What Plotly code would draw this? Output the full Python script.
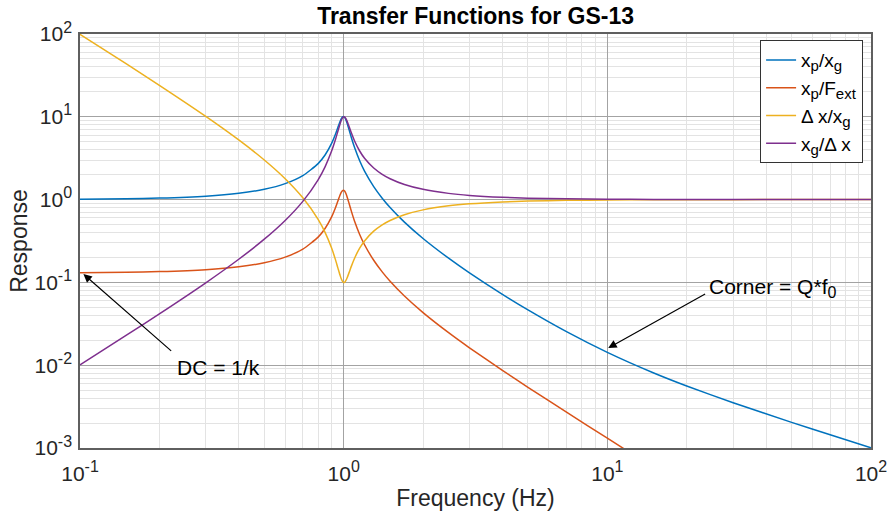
import plotly.graph_objects as go

# Frequencies (Hz) sampled along the curves
freq = [0.1, 0.15, 0.2, 0.3, 0.4, 0.5, 0.6, 0.7, 0.8, 0.85, 0.9, 0.93, 0.95, 0.97, 0.98, 0.99,
        1.0, 1.01, 1.02, 1.03, 1.05, 1.07, 1.1, 1.15, 1.2, 1.3, 1.4, 1.5, 1.7, 2.0, 2.5, 3.0,
        4.0, 5.0, 7.0, 10.0, 15.0, 20.0, 30.0, 50.0, 70.0, 100.0]

xp_xg = [1.010, 1.023, 1.042, 1.099, 1.190, 1.332, 1.559, 1.947, 2.720, 3.458, 4.776, 6.123,
         7.379, 8.845, 9.506, 9.952, 10.05, 9.760, 9.162, 8.401, 6.852, 5.583, 4.244, 2.940,
         2.208, 1.436, 1.041, 0.8032, 0.5345, 0.3392, 0.1961, 0.1304, 0.07178, 0.04657,
         0.02543, 0.01428, 0.008048, 0.005604, 0.003518, 0.002040, 0.001443, 0.001005]

xp_fext = [0.1312, 0.1329, 0.1353, 0.1426, 0.1544, 0.1728, 0.2020, 0.2523, 0.3522, 0.4475,
           0.6177, 0.7918, 0.9540, 1.143, 1.229, 1.286, 1.299, 1.261, 1.184, 1.085, 0.8850,
           0.7210, 0.5478, 0.3793, 0.2848, 0.1850, 0.1339, 0.1032, 0.06844, 0.04319, 0.02471,
           0.01622, 0.008655, 0.005410, 0.002705, 0.001312, 0.0005798, 0.0003255, 0.0001445,
           0.00005197, 0.00002651, 0.00001299]

dx_xg = [99.00, 43.45, 24.01, 10.12, 5.256, 3.007, 1.786, 1.051, 0.5762, 0.4017, 0.2596,
         0.1896, 0.1508, 0.1207, 0.1101, 0.1030, 0.1000, 0.1010, 0.1055, 0.1128, 0.1331,
         0.1573, 0.1959, 0.2589, 0.3167, 0.4155, 0.4950, 0.5595, 0.6566, 0.7517, 0.8410,
         0.8895, 0.9378, 0.9602, 0.9797, 0.9901, 0.9956, 0.9975, 0.9989, 0.9996, 0.9998, 0.9999]

xg_dx = [0.01010, 0.02302, 0.04166, 0.09885, 0.1903, 0.3326, 0.5600, 0.9519, 1.736, 2.489,
         3.853, 5.273, 6.630, 8.283, 9.086, 9.706, 10.00, 9.906, 9.483, 8.866, 7.513, 6.356,
         5.104, 3.863, 3.157, 2.407, 2.020, 1.787, 1.523, 1.330, 1.189, 1.124, 1.066, 1.041,
         1.021, 1.010, 1.004, 1.0025, 1.0011, 1.0004, 1.0002, 1.0001]

def sub(t, size=15):
    return "<sub><span style='font-size:%dpx'>%s</span></sub>" % (size, t)

def sup(t, size=15):
    return "<sup><span style='font-size:%dpx'>%s</span></sup>" % (size, t)

series_names = ["x" + sub("p") + "/x" + sub("g"),
                "x" + sub("p") + "/F" + sub("ext"),
                "Δ x/x" + sub("g"),
                "x" + sub("g") + "/Δ x"]
series_vals = [xp_xg, xp_fext, dx_xg, xg_dx]
colors = ["#0072BD", "#D95319", "#EDB120", "#7E2F8E"]

x_tick_vals = [0.1, 1, 10, 100]
x_tick_exps = ["-1", "0", "1", "2"]
y_tick_vals = [0.001, 0.01, 0.1, 1, 10, 100]
y_tick_exps = ["-3", "-2", "-1", "0", "1", "2"]
x_tick_text = ["10" + sup(e, 16) for e in x_tick_exps]
y_tick_text = ["10" + sup(e, 16) for e in y_tick_exps]

def minor_vals(lo_exp, hi_exp):
    out = []
    for e in range(lo_exp, hi_exp):
        for m in range(2, 10):
            out.append(m * 10 ** e)
    return out

FONT = "Liberation Sans, Arial, sans-serif"

fig = go.Figure()
for name, vals, c in zip(series_names, series_vals, colors):
    fig.add_trace(go.Scatter(x=freq, y=vals, mode="lines", name=name,
                             line=dict(color=c, width=1.5, shape="spline", smoothing=0.6)))

axis_common = dict(
    type="log", automargin=False,
    showgrid=True, gridcolor="#a3a3a3", gridwidth=1,
    showline=True, linecolor="#5f5f5f", linewidth=1.5, mirror=True,
    ticks="", zeroline=False,
    tickfont=dict(family=FONT, size=21, color="#262626"),
)

fig.update_xaxes(**axis_common, range=[-1, 2], tickmode="array",
                 tickvals=x_tick_vals, ticktext=x_tick_text, ticklabelstandoff=6,
                 minor=dict(tickmode="array", tickvals=minor_vals(-1, 2), showgrid=True,
                            gridcolor="#e3e3e3", gridwidth=1, ticks=""),
                 title=dict(text="Frequency (Hz)", font=dict(family=FONT, size=23, color="#262626"),
                            standoff=6))
fig.update_yaxes(**axis_common, range=[-3, 2], tickmode="array",
                 tickvals=y_tick_vals, ticktext=y_tick_text, ticklabelstandoff=2,
                 minor=dict(tickmode="array", tickvals=minor_vals(-3, 2), showgrid=True,
                            gridcolor="#e3e3e3", gridwidth=1, ticks=""),
                 title=dict(text="Response", font=dict(family=FONT, size=23, color="#262626"),
                            standoff=0))

# Annotations (arrows in log10 data units)
fig.add_annotation(x=-0.987, y=-0.90, ax=-0.6485, ay=-1.843, axref="x", ayref="y",
                   xref="x", yref="y", text="", showarrow=True, arrowhead=2,
                   arrowsize=1.4, arrowwidth=1.2, arrowcolor="black", standoff=0, startstandoff=0)
fig.add_annotation(x=-0.638, y=-2.03, xref="x", yref="y", text="DC = 1/k", showarrow=False,
                   xanchor="left", yanchor="middle", font=dict(family=FONT, size=21, color="black"))
fig.add_annotation(x=1.0034, y=-1.792, ax=1.3766, ay=-1.129, axref="x", ayref="y",
                   xref="x", yref="y", text="", showarrow=True, arrowhead=2,
                   arrowsize=1.4, arrowwidth=1.2, arrowcolor="black", standoff=0, startstandoff=0)
fig.add_annotation(x=1.378, y=-1.07, xref="x", yref="y", text="Corner = Q*f" + sub("0", 16),
                   showarrow=False, xanchor="left", yanchor="middle",
                   font=dict(family=FONT, size=21, color="black"))

fig.update_layout(
    width=889, height=518,
    margin=dict(l=80, r=18, t=34, b=70),
    plot_bgcolor="white", paper_bgcolor="white",
    title=dict(text="<b>Transfer Functions for GS-13</b>", x=0.535, xanchor="center",
               y=0.97, yanchor="middle", font=dict(family=FONT, size=23, color="black")),
    legend=dict(x=0.99, y=0.985, xanchor="right", yanchor="top",
                bgcolor="white", bordercolor="#333333", borderwidth=1,
                font=dict(family=FONT, size=19, color="black"),
                tracegroupgap=0, itemwidth=30),
    showlegend=True,
)

fig.write_html("out.html")
